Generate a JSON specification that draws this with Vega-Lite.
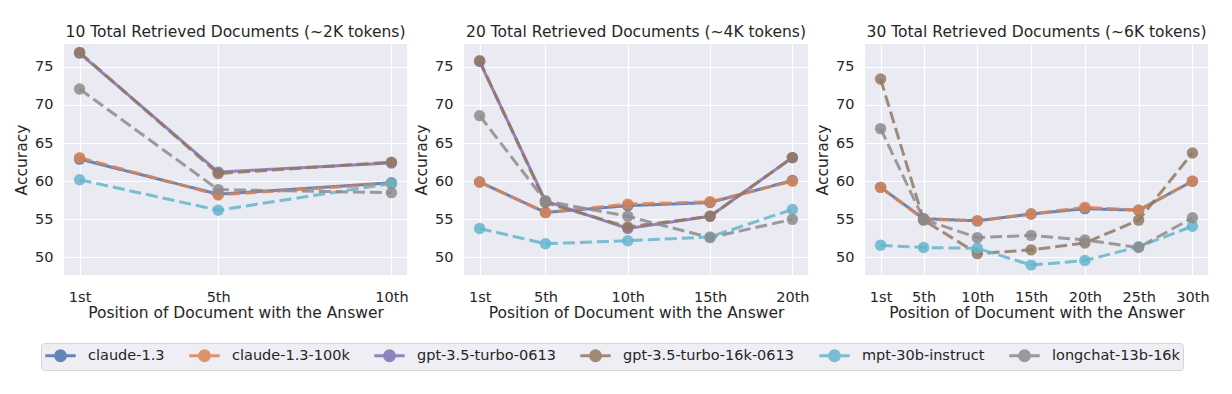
{
  "$schema": "https://vega.github.io/schema/vega-lite/v6.json",
  "padding": {"left": 14, "top": 24, "right": 5, "bottom": 5},
  "spacing": 5,
  "config": {
    "font": "DejaVu Sans",
    "view": {"fill": "#eaeaf2", "stroke": null},
    "axis": {
      "domain": false, "ticks": false, "gridColor": "#ffffff", "gridWidth": 1.2,
      "labelFont": "DejaVu Sans", "labelFontSize": 14.5, "labelColor": "#262626",
      "titleFont": "DejaVu Sans", "titleFontSize": 15.5, "titleColor": "#262626", "titleFontWeight": "normal"
    },
    "title": {"font": "DejaVu Sans", "fontSize": 15.5, "fontWeight": "normal", "color": "#262626", "offset": 4},
    "legend": {"orient": "none", "legendX": -23, "legendY": 299, "direction": "horizontal", "columns": 6,
            "symbolType": "M-1.9,0L1.9,0M0.625,0A0.625,0.625,0,1,1,-0.625,0A0.625,0.625,0,1,1,0.625,0Z",
            "symbolSize": 256, "symbolStrokeWidth": 3, "symbolOpacity": 0.85, "symbolOffset": 7,
            "labelFontSize": 14.5, "labelFont": "DejaVu Sans", "labelColor": "#262626", "labelOffset": 18, "labelLimit": 400,
            "columnPadding": 18, "padding": 3, "fillColor": "#eeeef4", "strokeColor": "#d5d5dc", "cornerRadius": 3}
  },
  "data": {"values": [
    {"panel": 10, "model": "claude-1.3", "pos": 1, "acc": 62.9},
    {"panel": 10, "model": "claude-1.3", "pos": 5, "acc": 58.3},
    {"panel": 10, "model": "claude-1.3", "pos": 10, "acc": 59.8},
    {"panel": 10, "model": "claude-1.3-100k", "pos": 1, "acc": 63.1},
    {"panel": 10, "model": "claude-1.3-100k", "pos": 5, "acc": 58.2},
    {"panel": 10, "model": "claude-1.3-100k", "pos": 10, "acc": 59.7},
    {"panel": 10, "model": "gpt-3.5-turbo-0613", "pos": 1, "acc": 76.8},
    {"panel": 10, "model": "gpt-3.5-turbo-0613", "pos": 5, "acc": 61.2},
    {"panel": 10, "model": "gpt-3.5-turbo-0613", "pos": 10, "acc": 62.4},
    {"panel": 10, "model": "gpt-3.5-turbo-16k-0613", "pos": 1, "acc": 76.9},
    {"panel": 10, "model": "gpt-3.5-turbo-16k-0613", "pos": 5, "acc": 61.0},
    {"panel": 10, "model": "gpt-3.5-turbo-16k-0613", "pos": 10, "acc": 62.5},
    {"panel": 10, "model": "mpt-30b-instruct", "pos": 1, "acc": 60.2},
    {"panel": 10, "model": "mpt-30b-instruct", "pos": 5, "acc": 56.2},
    {"panel": 10, "model": "mpt-30b-instruct", "pos": 10, "acc": 59.7},
    {"panel": 10, "model": "longchat-13b-16k", "pos": 1, "acc": 72.1},
    {"panel": 10, "model": "longchat-13b-16k", "pos": 5, "acc": 58.9},
    {"panel": 10, "model": "longchat-13b-16k", "pos": 10, "acc": 58.5},

    {"panel": 20, "model": "claude-1.3", "pos": 1, "acc": 59.9},
    {"panel": 20, "model": "claude-1.3", "pos": 5, "acc": 55.9},
    {"panel": 20, "model": "claude-1.3", "pos": 10, "acc": 56.8},
    {"panel": 20, "model": "claude-1.3", "pos": 15, "acc": 57.2},
    {"panel": 20, "model": "claude-1.3", "pos": 20, "acc": 60.1},
    {"panel": 20, "model": "claude-1.3-100k", "pos": 1, "acc": 59.9},
    {"panel": 20, "model": "claude-1.3-100k", "pos": 5, "acc": 55.9},
    {"panel": 20, "model": "claude-1.3-100k", "pos": 10, "acc": 57.0},
    {"panel": 20, "model": "claude-1.3-100k", "pos": 15, "acc": 57.3},
    {"panel": 20, "model": "claude-1.3-100k", "pos": 20, "acc": 60.0},
    {"panel": 20, "model": "gpt-3.5-turbo-0613", "pos": 1, "acc": 75.7},
    {"panel": 20, "model": "gpt-3.5-turbo-0613", "pos": 5, "acc": 57.4},
    {"panel": 20, "model": "gpt-3.5-turbo-0613", "pos": 10, "acc": 53.8},
    {"panel": 20, "model": "gpt-3.5-turbo-0613", "pos": 15, "acc": 55.4},
    {"panel": 20, "model": "gpt-3.5-turbo-0613", "pos": 20, "acc": 63.1},
    {"panel": 20, "model": "gpt-3.5-turbo-16k-0613", "pos": 1, "acc": 75.8},
    {"panel": 20, "model": "gpt-3.5-turbo-16k-0613", "pos": 5, "acc": 57.2},
    {"panel": 20, "model": "gpt-3.5-turbo-16k-0613", "pos": 10, "acc": 54.0},
    {"panel": 20, "model": "gpt-3.5-turbo-16k-0613", "pos": 15, "acc": 55.4},
    {"panel": 20, "model": "gpt-3.5-turbo-16k-0613", "pos": 20, "acc": 63.1},
    {"panel": 20, "model": "mpt-30b-instruct", "pos": 1, "acc": 53.8},
    {"panel": 20, "model": "mpt-30b-instruct", "pos": 5, "acc": 51.8},
    {"panel": 20, "model": "mpt-30b-instruct", "pos": 10, "acc": 52.2},
    {"panel": 20, "model": "mpt-30b-instruct", "pos": 15, "acc": 52.7},
    {"panel": 20, "model": "mpt-30b-instruct", "pos": 20, "acc": 56.3},
    {"panel": 20, "model": "longchat-13b-16k", "pos": 1, "acc": 68.6},
    {"panel": 20, "model": "longchat-13b-16k", "pos": 5, "acc": 57.4},
    {"panel": 20, "model": "longchat-13b-16k", "pos": 10, "acc": 55.4},
    {"panel": 20, "model": "longchat-13b-16k", "pos": 15, "acc": 52.6},
    {"panel": 20, "model": "longchat-13b-16k", "pos": 20, "acc": 55.0},

    {"panel": 30, "model": "claude-1.3", "pos": 1, "acc": 59.2},
    {"panel": 30, "model": "claude-1.3", "pos": 5, "acc": 55.1},
    {"panel": 30, "model": "claude-1.3", "pos": 10, "acc": 54.8},
    {"panel": 30, "model": "claude-1.3", "pos": 15, "acc": 55.7},
    {"panel": 30, "model": "claude-1.3", "pos": 20, "acc": 56.4},
    {"panel": 30, "model": "claude-1.3", "pos": 25, "acc": 56.2},
    {"panel": 30, "model": "claude-1.3", "pos": 30, "acc": 60.0},
    {"panel": 30, "model": "claude-1.3-100k", "pos": 1, "acc": 59.2},
    {"panel": 30, "model": "claude-1.3-100k", "pos": 5, "acc": 55.0},
    {"panel": 30, "model": "claude-1.3-100k", "pos": 10, "acc": 54.8},
    {"panel": 30, "model": "claude-1.3-100k", "pos": 15, "acc": 55.7},
    {"panel": 30, "model": "claude-1.3-100k", "pos": 20, "acc": 56.6},
    {"panel": 30, "model": "claude-1.3-100k", "pos": 25, "acc": 56.2},
    {"panel": 30, "model": "claude-1.3-100k", "pos": 30, "acc": 60.0},
    {"panel": 30, "model": "gpt-3.5-turbo-16k-0613", "pos": 1, "acc": 73.4},
    {"panel": 30, "model": "gpt-3.5-turbo-16k-0613", "pos": 5, "acc": 54.9},
    {"panel": 30, "model": "gpt-3.5-turbo-16k-0613", "pos": 10, "acc": 50.5},
    {"panel": 30, "model": "gpt-3.5-turbo-16k-0613", "pos": 15, "acc": 51.0},
    {"panel": 30, "model": "gpt-3.5-turbo-16k-0613", "pos": 20, "acc": 51.9},
    {"panel": 30, "model": "gpt-3.5-turbo-16k-0613", "pos": 25, "acc": 54.9},
    {"panel": 30, "model": "gpt-3.5-turbo-16k-0613", "pos": 30, "acc": 63.7},
    {"panel": 30, "model": "mpt-30b-instruct", "pos": 1, "acc": 51.6},
    {"panel": 30, "model": "mpt-30b-instruct", "pos": 5, "acc": 51.3},
    {"panel": 30, "model": "mpt-30b-instruct", "pos": 10, "acc": 51.2},
    {"panel": 30, "model": "mpt-30b-instruct", "pos": 15, "acc": 49.0},
    {"panel": 30, "model": "mpt-30b-instruct", "pos": 20, "acc": 49.6},
    {"panel": 30, "model": "mpt-30b-instruct", "pos": 25, "acc": 51.4},
    {"panel": 30, "model": "mpt-30b-instruct", "pos": 30, "acc": 54.1},
    {"panel": 30, "model": "longchat-13b-16k", "pos": 1, "acc": 66.9},
    {"panel": 30, "model": "longchat-13b-16k", "pos": 5, "acc": 55.0},
    {"panel": 30, "model": "longchat-13b-16k", "pos": 10, "acc": 52.6},
    {"panel": 30, "model": "longchat-13b-16k", "pos": 15, "acc": 52.9},
    {"panel": 30, "model": "longchat-13b-16k", "pos": 20, "acc": 52.3},
    {"panel": 30, "model": "longchat-13b-16k", "pos": 25, "acc": 51.3},
    {"panel": 30, "model": "longchat-13b-16k", "pos": 30, "acc": 55.2}
  ]},
  "hconcat": [
    {
      "width": 343, "height": 231,
      "title": "10 Total Retrieved Documents (~2K tokens)",
      "transform": [{"filter": "datum.panel == 10"}],
      "encoding": {
        "x": {"field": "pos", "type": "quantitative", "scale": {"domain": [0.55, 10.45], "nice": false, "zero": false},
              "axis": {"values": [1, 5, 10], "labelExpr": "datum.value == 1 ? '1st' : datum.value + 'th'", "title": "Position of Document with the Answer", "labelPadding": 15, "titlePadding": 2}},
        "y": {"field": "acc", "type": "quantitative", "scale": {"domain": [47.7, 78], "nice": false, "zero": false},
              "axis": {"values": [50, 55, 60, 65, 70, 75], "title": "Accuracy", "labelPadding": 11, "titlePadding": 5}},
        "color": {"field": "model", "type": "nominal",
          "scale": {"domain": ["claude-1.3", "claude-1.3-100k", "gpt-3.5-turbo-0613", "gpt-3.5-turbo-16k-0613", "mpt-30b-instruct", "longchat-13b-16k"],
                    "range": ["#4c72b0", "#dd8452", "#8172b3", "#937860", "#64b5cd", "#8c8c8c"]},
          "legend": {"title": null}}
      },
      "layer": [
        {"mark": {"type": "line", "strokeWidth": 3, "opacity": 0.85},
         "encoding": {"strokeDash": {"field": "model", "type": "nominal", "legend": null,
           "scale": {"domain": ["claude-1.3", "gpt-3.5-turbo-0613", "claude-1.3-100k", "gpt-3.5-turbo-16k-0613", "mpt-30b-instruct", "longchat-13b-16k"],
                     "range": [[1, 0], [1, 0], [12, 5], [12, 5], [12, 5], [12, 5]]}}}},
        {"mark": {"type": "point", "filled": true, "size": 130, "opacity": 0.85}}
      ]
    },
    {
      "width": 344, "height": 231,
      "title": "20 Total Retrieved Documents (~4K tokens)",
      "transform": [{"filter": "datum.panel == 20"}],
      "encoding": {
        "x": {"field": "pos", "type": "quantitative", "scale": {"domain": [0.05, 20.95], "nice": false, "zero": false},
              "axis": {"values": [1, 5, 10, 15, 20], "labelExpr": "datum.value == 1 ? '1st' : datum.value + 'th'", "title": "Position of Document with the Answer", "labelPadding": 15, "titlePadding": 2}},
        "y": {"field": "acc", "type": "quantitative", "scale": {"domain": [47.7, 78], "nice": false, "zero": false},
              "axis": {"values": [50, 55, 60, 65, 70, 75], "title": "Accuracy", "labelPadding": 11, "titlePadding": 5}},
        "color": {"field": "model", "type": "nominal",
          "scale": {"domain": ["claude-1.3", "claude-1.3-100k", "gpt-3.5-turbo-0613", "gpt-3.5-turbo-16k-0613", "mpt-30b-instruct", "longchat-13b-16k"],
                    "range": ["#4c72b0", "#dd8452", "#8172b3", "#937860", "#64b5cd", "#8c8c8c"]},
          "legend": {"title": null}}
      },
      "layer": [
        {"mark": {"type": "line", "strokeWidth": 3, "opacity": 0.85},
         "encoding": {"strokeDash": {"field": "model", "type": "nominal", "legend": null,
           "scale": {"domain": ["claude-1.3", "gpt-3.5-turbo-0613", "claude-1.3-100k", "gpt-3.5-turbo-16k-0613", "mpt-30b-instruct", "longchat-13b-16k"],
                     "range": [[1, 0], [1, 0], [12, 5], [12, 5], [12, 5], [12, 5]]}}}},
        {"mark": {"type": "point", "filled": true, "size": 130, "opacity": 0.85}}
      ]
    },
    {
      "width": 343, "height": 231,
      "title": "30 Total Retrieved Documents (~6K tokens)",
      "transform": [{"filter": "datum.panel == 30"}],
      "encoding": {
        "x": {"field": "pos", "type": "quantitative", "scale": {"domain": [-0.45, 31.45], "nice": false, "zero": false},
              "axis": {"values": [1, 5, 10, 15, 20, 25, 30], "labelExpr": "datum.value == 1 ? '1st' : datum.value + 'th'", "title": "Position of Document with the Answer", "labelPadding": 15, "titlePadding": 2}},
        "y": {"field": "acc", "type": "quantitative", "scale": {"domain": [47.7, 78], "nice": false, "zero": false},
              "axis": {"values": [50, 55, 60, 65, 70, 75], "title": "Accuracy", "labelPadding": 11, "titlePadding": 5}},
        "color": {"field": "model", "type": "nominal",
          "scale": {"domain": ["claude-1.3", "claude-1.3-100k", "gpt-3.5-turbo-0613", "gpt-3.5-turbo-16k-0613", "mpt-30b-instruct", "longchat-13b-16k"],
                    "range": ["#4c72b0", "#dd8452", "#8172b3", "#937860", "#64b5cd", "#8c8c8c"]},
          "legend": {"title": null}}
      },
      "layer": [
        {"mark": {"type": "line", "strokeWidth": 3, "opacity": 0.85},
         "encoding": {"strokeDash": {"field": "model", "type": "nominal", "legend": null,
           "scale": {"domain": ["claude-1.3", "gpt-3.5-turbo-0613", "claude-1.3-100k", "gpt-3.5-turbo-16k-0613", "mpt-30b-instruct", "longchat-13b-16k"],
                     "range": [[1, 0], [1, 0], [12, 5], [12, 5], [12, 5], [12, 5]]}}}},
        {"mark": {"type": "point", "filled": true, "size": 130, "opacity": 0.85}}
      ]
    }
  ],
  "resolve": {"scale": {"x": "independent"}}
}
